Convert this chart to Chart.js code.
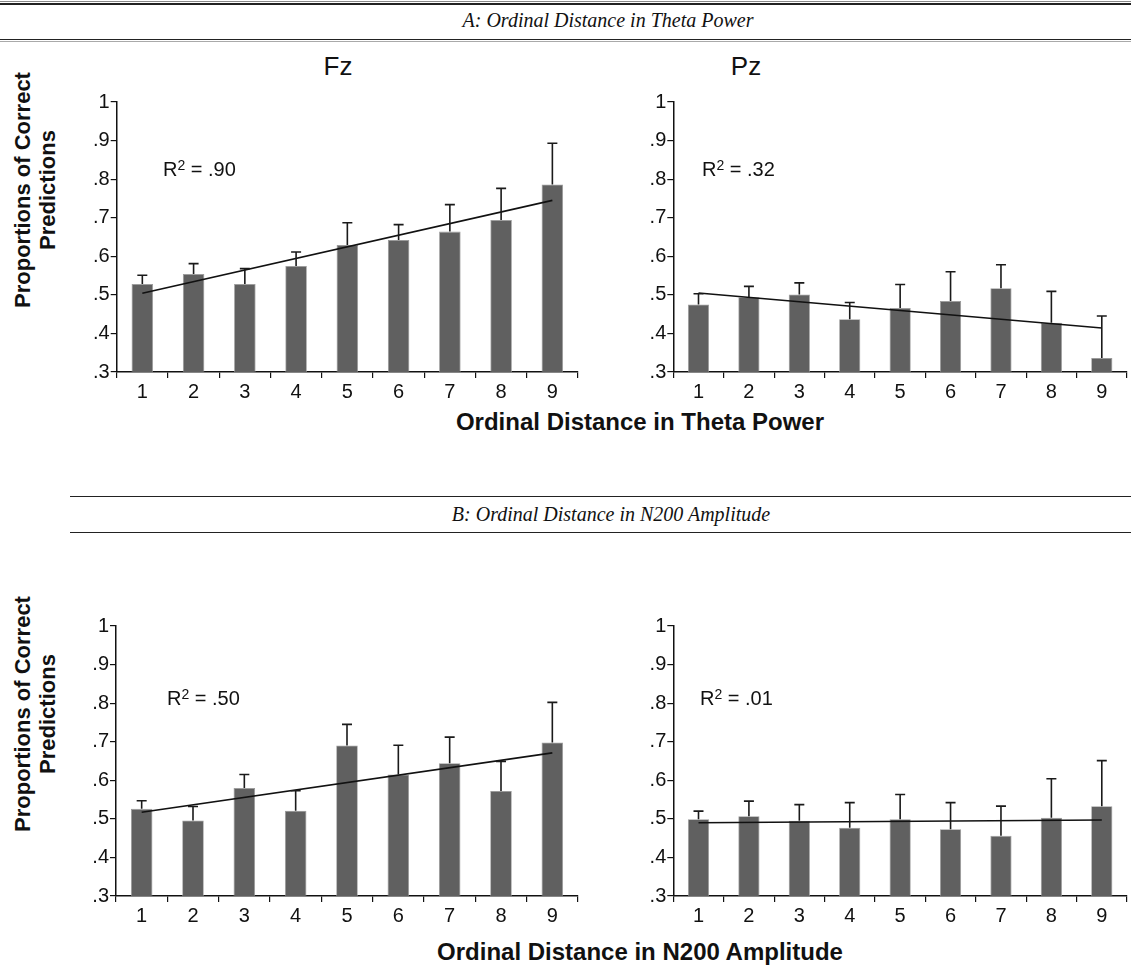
<!DOCTYPE html>
<html>
<head>
<meta charset="utf-8">
<script src="https://cdn.jsdelivr.net/npm/chart.js@4.4.1/dist/chart.umd.min.js"></script>
<style>
  body { margin: 0; background: #fff; }
  #page { position: relative; width: 1131px; height: 968px; overflow: hidden; font-family: "Liberation Sans", Arial, sans-serif; color: #111; }
  canvas { position: absolute; }
  .hline { position: absolute; height: 0; }
  .header { position: absolute; font-family: "Liberation Serif", "Times New Roman", serif; font-style: italic; font-size: 20px; white-space: nowrap; transform: translate(-50%, -50%); }
  .ptitle { position: absolute; font-size: 26px; transform: translate(-50%, -50%); }
  .xtitle { position: absolute; font-size: 24px; font-weight: bold; white-space: nowrap; transform: translate(-50%, -50%); }
  .ytitle { position: absolute; font-size: 22px; font-weight: bold; text-align: center; line-height: 25px; white-space: nowrap; transform: translate(-50%, -50%) rotate(-90deg); }
  .r2 { position: absolute; font-size: 20px; white-space: nowrap; }
  .r2 sup { font-size: 14px; vertical-align: 6px; line-height: 0; }
</style>
</head>
<body>
<div id="page">
  <div class="hline" style="left:0;width:1131px;top:1px;border-top:1px solid #888;"></div>
  <div class="hline" style="left:0;width:1131px;top:3px;border-top:2px solid #222;"></div>
  <div class="header" style="left:608px;top:20px;">A: Ordinal Distance in Theta Power</div>
  <div class="hline" style="left:0;width:1131px;top:39px;border-top:1.5px solid #222;"></div>
  <div class="hline" style="left:0;width:1131px;top:41px;border-top:1px solid #aaa;"></div>

  <div class="ptitle" style="left:338px;top:66px;">Fz</div>
  <div class="ptitle" style="left:746px;top:66px;">Pz</div>

  <div class="ytitle" style="left:35px;top:190px;">Proportions of Correct<br>Predictions</div>
  <div class="ytitle" style="left:35px;top:714px;">Proportions of Correct<br>Predictions</div>

  <canvas id="aFz" width="522" height="318" style="left:60px;top:89px;"></canvas>
  <canvas id="aPz" width="514" height="318" style="left:617px;top:89px;"></canvas>

  <div class="xtitle" style="left:640px;top:422px;">Ordinal Distance in Theta Power</div>

  <div class="hline" style="left:70px;width:1061px;top:496px;border-top:1px solid #222;"></div>
  <div class="header" style="left:611px;top:514px;">B: Ordinal Distance in N200 Amplitude</div>
  <div class="hline" style="left:70px;width:1061px;top:532px;border-top:1px solid #222;"></div>

  <canvas id="bFz" width="522" height="318" style="left:60px;top:613px;"></canvas>
  <canvas id="bPz" width="514" height="318" style="left:617px;top:613px;"></canvas>

  <div class="xtitle" style="left:640px;top:952px;">Ordinal Distance in N200 Amplitude</div>

  <div class="r2" style="left:163px;top:158px;">R<sup>2</sup> = .90</div>
  <div class="r2" style="left:702px;top:158px;">R<sup>2</sup> = .32</div>
  <div class="r2" style="left:167px;top:687px;">R<sup>2</sup> = .50</div>
  <div class="r2" style="left:700px;top:687px;">R<sup>2</sup> = .01</div>
</div>

<script>
const categories = ["1", "2", "3", "4", "5", "6", "7", "8", "9"];
const yTickValues = [0.3, 0.4, 0.5, 0.6, 0.7, 0.8, 0.9, 1];

// A: ordinal distance in theta power
const thetaFzMeans = [0.528, 0.554, 0.528, 0.575, 0.629, 0.642, 0.664, 0.694, 0.786];
const thetaFzErrors = [0.023, 0.027, 0.040, 0.036, 0.058, 0.040, 0.070, 0.082, 0.107];
const thetaFzTrend = [0.504, 0.745]; // fitted line at distance 1 and 9

const thetaPzMeans = [0.475, 0.494, 0.501, 0.437, 0.466, 0.484, 0.517, 0.428, 0.336];
const thetaPzErrors = [0.028, 0.028, 0.030, 0.043, 0.061, 0.076, 0.061, 0.081, 0.109];
const thetaPzTrend = [0.505, 0.414];

// B: ordinal distance in N200 amplitude
const n200FzMeans = [0.526, 0.496, 0.580, 0.521, 0.690, 0.615, 0.644, 0.572, 0.698];
const n200FzErrors = [0.021, 0.036, 0.035, 0.052, 0.055, 0.076, 0.068, 0.077, 0.104];
const n200FzTrend = [0.517, 0.671];

const n200PzMeans = [0.499, 0.507, 0.495, 0.477, 0.499, 0.473, 0.456, 0.503, 0.533];
const n200PzErrors = [0.021, 0.039, 0.042, 0.065, 0.064, 0.069, 0.077, 0.101, 0.118];
const n200PzTrend = [0.490, 0.497];

// upper error whiskers with a cap
const errorBars = {
  id: "errorBars",
  afterDatasetsDraw(chart) {
    const ds = chart.data.datasets[0];
    const meta = chart.getDatasetMeta(0);
    const y = chart.scales.y;
    const ctx = chart.ctx;
    ctx.save();
    ctx.strokeStyle = "#1a1a1a";
    ctx.lineWidth = 1.6;
    meta.data.forEach((bar, i) => {
      const top = y.getPixelForValue(ds.data[i] + ds.errors[i]);
      ctx.beginPath();
      ctx.moveTo(bar.x, bar.y);
      ctx.lineTo(bar.x, top);
      ctx.moveTo(bar.x - 5, top);
      ctx.lineTo(bar.x + 5, top);
      ctx.stroke();
    });
    ctx.restore();
  },
};

function trendData(ends) {
  const d = categories.map(() => null);
  d[0] = ends[0];
  d[categories.length - 1] = ends[1];
  return d;
}

function makeChart(id, means, errors, trend, yAxisWidth) {
  new Chart(document.getElementById(id), {
    type: "bar",
    data: {
      labels: categories,
      datasets: [
        {
          data: means,
          errors: errors,
          backgroundColor: "#606060",
          borderColor: "#9a9a9a",
          borderWidth: 0.8,
          barPercentage: 0.42,
          categoryPercentage: 1,
          order: 1,
        },
        {
          type: "line",
          data: trendData(trend),
          spanGaps: true,
          borderColor: "#111",
          borderWidth: 1.6,
          pointRadius: 0,
          order: 0,
        },
      ],
    },
    options: {
      responsive: false,
      animation: false,
      layout: { padding: { top: 10, right: 4, left: 0, bottom: 0 } },
      plugins: { legend: { display: false }, tooltip: { enabled: false } },
      scales: {
        x: {
          grid: { offset: true, drawOnChartArea: false, tickLength: 6, color: "#111", lineWidth: 1.2 },
          border: { color: "#111", width: 1.5 },
          ticks: { color: "#111", font: { family: "Liberation Sans", size: 20 }, padding: 2 },
          afterFit: (s) => { s.height = 35; },
        },
        y: {
          min: 0.3,
          max: 1,
          grid: { drawOnChartArea: false, tickLength: 6, color: "#111", lineWidth: 1.2 },
          border: { color: "#111", width: 1.5 },
          afterBuildTicks: (s) => { s.ticks = yTickValues.map((v) => ({ value: v })); },
          ticks: {
            color: "#111",
            font: { family: "Liberation Sans", size: 20 },
            padding: 1,
            callback: (v) => (v === 1 ? "1" : Number(v).toFixed(1).replace(/^0/, "")),
          },
          afterFit: (s) => { s.width = yAxisWidth; },
        },
      },
    },
    plugins: [errorBars],
  });
}

makeChart("aFz", thetaFzMeans, thetaFzErrors, thetaFzTrend, 56.7);
makeChart("aPz", thetaPzMeans, thetaPzErrors, thetaPzTrend, 56.3);
makeChart("bFz", n200FzMeans, n200FzErrors, n200FzTrend, 56);
makeChart("bPz", n200PzMeans, n200PzErrors, n200PzTrend, 56.3);
</script>
</body>
</html>
